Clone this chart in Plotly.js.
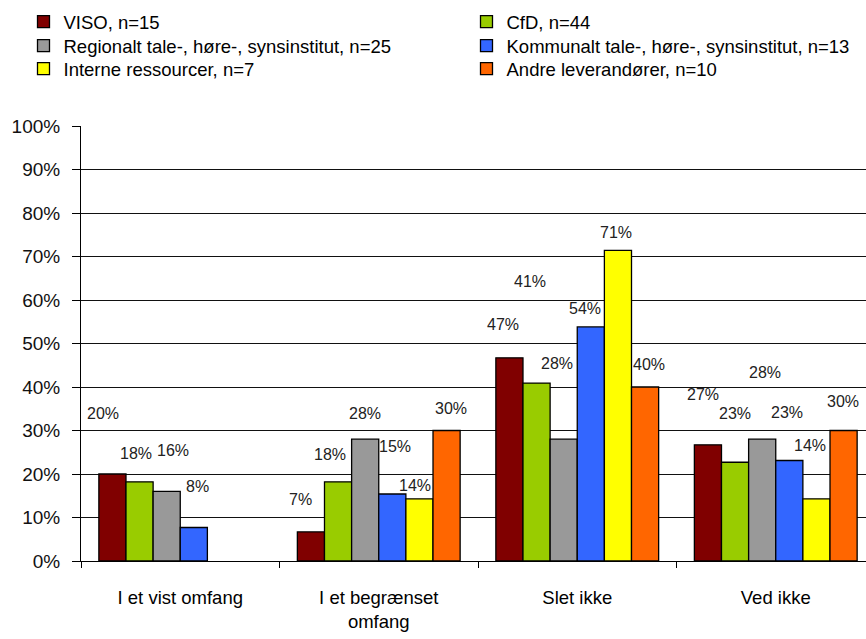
<!DOCTYPE html>
<html>
<head>
<meta charset="utf-8">
<script src="https://cdn.plot.ly/plotly-3.0.1.min.js"></script>
<style>
html,body{margin:0;padding:0;overflow:hidden;background:#fff;}
#chart{width:900px;height:639px;}
</style>
</head>
<body>
<div id="chart"></div>
<script>
// ---- data ----
const categories = ['I et vist omfang', 'I et begrænset<br>omfang', 'Slet ikke', 'Ved ikke'];
const seriesNames = ['VISO, n=15', 'CfD, n=44', 'Regionalt tale-, høre-, synsinstitut, n=25',
  'Kommunalt tale-, høre-, synsinstitut, n=13', 'Interne ressourcer, n=7', 'Andre leverandører, n=10'];
const viso      = [0.200, 0.067, 0.467, 0.267];
const cfd       = [0.182, 0.182, 0.409, 0.227];
const regional  = [0.160, 0.280, 0.280, 0.280];
const kommunalt = [0.077, 0.154, 0.538, 0.231];
const interne   = [null,  0.143, 0.714, 0.143];
const andre     = [null,  0.300, 0.400, 0.300];
const yTicks = [0,0.1,0.2,0.3,0.4,0.5,0.6,0.7,0.8,0.9,1];
const yTickText = ['0%','10%','20%','30%','40%','50%','60%','70%','80%','90%','100%'];

// ---- style ----
const colors = ['#800000', '#99CC00', '#999999', '#3366FF', '#FFFF00', '#FF6600'];
const allSeries = [viso, cfd, regional, kommunalt, interne, andre];
// legend entry placement (pixels in the page): two columns, three rows
const legendColX = [23.5, 466.5];
const legendRowY = [22, 46, 69];
// label pixel offsets (as placed in the original) relative to bar top centre
const labelDx = [[-9,-10,-6,-5],[-4,-8,-7,0],[6,0,-7,3],[4,3,-6,-2],[0,-4,-2,-6],[0,4,4,-1]];
const labelDy = [[61,32,33,50],[28,27,102,49],[41,26,76,67],[41,48,18,48],[0,13,18,53],[0,22,23,29]];
const NARROW = '"Liberation Sans Narrow", "Liberation Sans", Arial, sans-serif';
const REGULAR = '"Liberation Sans", Arial, sans-serif';
const bargap = 0.18;
const W = 900, H = 639;

const legendIds = allSeries.map((_, i) => i === 0 ? 'legend' : 'legend' + (i + 1));

const traces = allSeries.map((vals, i) => ({
  type: 'bar',
  name: seriesNames[i],
  legend: legendIds[i],
  x: categories,
  y: vals,
  marker: {color: colors[i], line: {color: '#000', width: 1.3}},
  hoverinfo: 'skip'
}));

const slotW = (1 - bargap) / allSeries.length;
const annotations = [];
allSeries.forEach((vals, s) => {
  vals.forEach((v, g) => {
    if (v === null || v === undefined) return;
    annotations.push({
      xref: 'x', yref: 'y',
      x: g + (s - (allSeries.length - 1) / 2) * slotW,
      y: v,
      xshift: labelDx[s][g], yshift: labelDy[s][g],
      text: Math.round(v * 100) + '%',
      showarrow: false,
      xanchor: 'center', yanchor: 'middle',
      font: {family: REGULAR, size: 16, color: '#222'}
    });
  });
});

const layout = {
  width: W, height: H,
  margin: {l: 81, r: 25, t: 126, b: 78},
  paper_bgcolor: '#fff', plot_bgcolor: '#fff',
  barmode: 'group', bargap: bargap, bargroupgap: 0,
  font: {family: REGULAR, size: 17, color: '#000'},
  showlegend: true,
  xaxis: {
    type: 'category',
    tickson: 'boundaries', ticks: 'outside', ticklen: 6, tickcolor: '#000',
    showline: true, linecolor: '#000', linewidth: 1,
    showgrid: false, zeroline: false,
    ticklabelstandoff: 20,
    tickfont: {family: NARROW, size: 18.5, color: '#000'}
  },
  yaxis: {
    range: [0, 1], tickvals: yTicks, ticktext: yTickText,
    ticks: 'outside', ticklen: 8, tickcolor: '#000',
    showline: true, linecolor: '#000', linewidth: 1,
    showgrid: true, gridcolor: '#111', gridwidth: 1,
    zeroline: false,
    ticklabelstandoff: 8,
    tickfont: {family: REGULAR, size: 19, color: '#111'}
  },
  annotations: annotations
};

legendIds.forEach((id, i) => {
  const col = i % 2, row = Math.floor(i / 2);
  layout[id] = {
    orientation: 'h', xref: 'container', yref: 'container',
    x: legendColX[col] / W, y: 1 - legendRowY[row] / H,
    xanchor: 'left', yanchor: 'middle',
    bgcolor: 'rgba(0,0,0,0)',
    font: {family: NARROW, size: 18.5, color: '#000'},
    itemclick: false
  };
});

Plotly.newPlot('chart', traces, layout, {displayModeBar: false, staticPlot: true});
</script>
</body>
</html>
